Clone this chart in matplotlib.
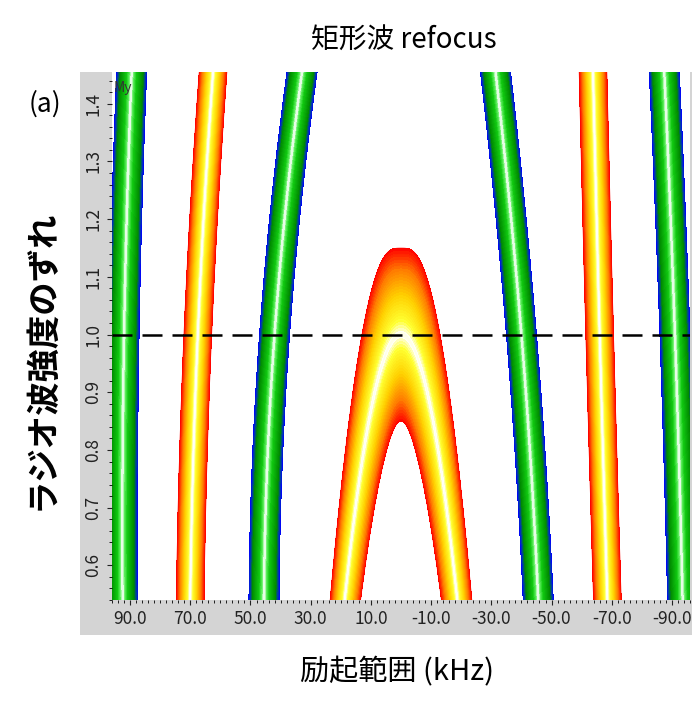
import numpy as np
import matplotlib.pyplot as plt
from matplotlib.colors import LinearSegmentedColormap
from matplotlib.ticker import MultipleLocator

plt.rcParams["font.family"] = ["Noto Sans CJK JP", "DejaVu Sans"]

# band centre positions (kHz) read at three field strengths
yKnots = [0.55, 1.0, 1.45]
greenBands = [[92.5, 92.0, 89.5], [45.5, 42.0, 33.0], [-45.5, -40.0, -31.5], [-93.5, -91.0, -87.5]]
redBands = [[70.0, 67.5, 62.5], [-68.5, -66.0, -63.8]]
greenHalf = 5.0
redHalf = 4.6
# central hump: peak at 0 kHz, legs reach 0.55 at about +-18.5 kHz
humpPeak = 1.0
humpLegX = 18.5
humpHalf = 0.15

x = np.linspace(97, -97, 900)
y = np.linspace(0.54, 1.455, 700)
X, Y = np.meshgrid(x, y)

def band_field(knots, half):
    p = np.polyfit(yKnots, knots, 2)
    xc = np.polyval(p, Y)
    return 1 - np.abs(X - xc) / half

gField = np.max([band_field(b, greenHalf) for b in greenBands], axis=0)
rField = np.max([band_field(b, redHalf) for b in redBands], axis=0)
k = (humpPeak - 0.55) / humpLegX**2
yc = humpPeak - k * X**2
hump = 1 - np.abs(Y - yc) / (humpHalf * np.sqrt(1 + (2 * k * X / 0.012)**2) ** 0.35)
rField = np.maximum(rField, hump)

gCmap = LinearSegmentedColormap.from_list("g", [(0, "#0000ff"), (0.12, "#0040a0"), (0.25, "#008a00"),
                                                 (0.7, "#10c810"), (0.9, "#60f060"), (1, "#ffffff")])
rCmap = LinearSegmentedColormap.from_list("r", [(0, "#ff0000"), (0.25, "#ff7a00"), (0.55, "#ffd000"),
                                                 (0.85, "#ffff30"), (1, "#ffffff")])

fig = plt.figure(figsize=(6.96, 7.19), dpi=100)
bg = fig.add_axes([80/696, 1-635/719, 612/696, 563/719])
bg.set_facecolor("#d4d4d4")
bg.set_xticks([])
bg.set_yticks([])
for s in bg.spines.values():
    s.set_visible(False)

ax = fig.add_axes([112/696, 1-600/719, 578/696, 528/719])
ax.set_facecolor("white")
levels = np.linspace(0.001, 1.0, 30)
ax.contourf(X, Y, gField, levels=levels, cmap=gCmap)
ax.contourf(X, Y, rField, levels=levels, cmap=rCmap)
ax.contour(X, Y, rField, levels=levels[::2], cmap=rCmap, linewidths=0.5)
ax.axhline(1.0, color="black", ls=(0, (8, 4)), lw=1.8)

ax.set_xlim(96, -96)
ax.set_ylim(0.54, 1.455)
ax.set_xticks([90, 70, 50, 30, 10, -10, -30, -50, -70, -90])
ax.set_xticklabels(["90.0", "70.0", "50.0", "30.0", "10.0", "-10.0", "-30.0", "-50.0", "-70.0", "-90.0"])
ax.xaxis.set_minor_locator(MultipleLocator(2))
ax.set_yticks(np.arange(0.6, 1.41, 0.1))
ax.set_yticklabels([f"{v:.1f}" for v in np.arange(0.6, 1.41, 0.1)], rotation=90, va="center")
ax.yaxis.set_minor_locator(MultipleLocator(0.02))
ax.tick_params(labelsize=12.5, colors="#222222")
for s in ax.spines.values():
    s.set_visible(False)
ax.text(95.5, 1.44, "My", fontsize=10, va="top", color="#333333")

fig.text(0.58, 0.945, "矩形波 refocus", ha="center", va="center", fontsize=20)
fig.text(0.065, 0.855, "(a)", ha="center", va="center", fontsize=19)
fig.text(0.06, 0.5, "ラジオ波強度のずれ", rotation=90, ha="center", va="center", fontsize=24, fontweight="bold")
fig.text(0.57, 0.065, "励起範囲 (kHz)", ha="center", va="center", fontsize=21)

fig.savefig("out.png", dpi=100)
